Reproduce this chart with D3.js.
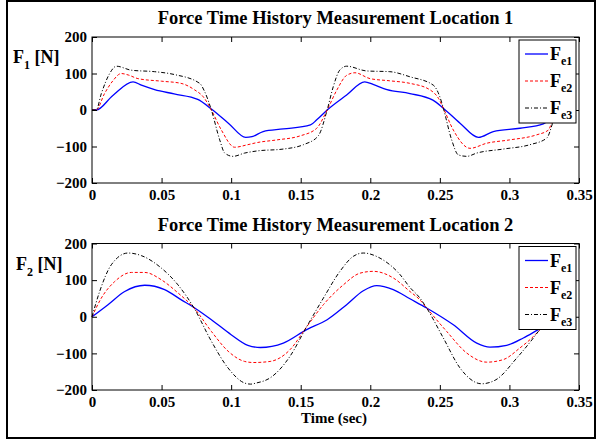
<!DOCTYPE html>
<html>
<head>
<meta charset="utf-8">
<script src="https://cdn.jsdelivr.net/npm/d3@7"></script>
<style>
  body { margin: 0; background: #fff; }
  svg { display: block; font-family: "Liberation Serif", "Times New Roman", serif; font-weight: bold; }
</style>
</head>
<body>
<svg class="chart" width="598" height="441"></svg>
<script>
// ---- data: [time (s), force (N)] ----
var loc1Fe1 = [[0,0],[0.003,0],[0.015,40],[0.0295,77],[0.0355,68],[0.045,56],[0.059,44],[0.076,29],[0.086,2],[0.098,-36],[0.1105,-75],[0.115,-73],[0.123,-59],[0.1375,-52],[0.157,-41],[0.1615,-27],[0.169,0],[0.183,41],[0.196,77],[0.202,70],[0.212,56],[0.2285,45],[0.245,27],[0.2525,5],[0.2645,-36],[0.2777,-75],[0.2884,-59],[0.3076,-50],[0.3244,-38],[0.330,-23],[0.335,0]];
var loc1Fe2 = [[0,0],[0.003,0],[0.009,45],[0.015,80],[0.021,100],[0.026,96],[0.033,86],[0.0498,79],[0.064,73],[0.0738,55],[0.080,36],[0.0858,0],[0.093,-55],[0.1025,-102],[0.112,-95],[0.119,-89],[0.1327,-82],[0.1495,-71],[0.1615,-50],[0.169,0],[0.176,55],[0.183,95],[0.189,102],[0.1998,86],[0.214,80],[0.2285,73],[0.243,55],[0.249,32],[0.2525,5],[0.2597,-55],[0.2717,-105],[0.2837,-91],[0.300,-82],[0.3196,-68],[0.328,-55],[0.331,-27],[0.335,10]];
var loc1Fe3 = [[0,0],[0.003,0],[0.0067,45],[0.0127,100],[0.0175,120],[0.0283,109],[0.045,105],[0.0594,97],[0.0774,73],[0.081,50],[0.0858,0],[0.0918,-82],[0.0954,-118],[0.1013,-127],[0.1097,-118],[0.119,-112],[0.1375,-107],[0.152,-95],[0.1626,-71],[0.169,0],[0.1734,64],[0.178,109],[0.183,120],[0.1974,107],[0.214,105],[0.2285,91],[0.2453,68],[0.250,36],[0.2525,5],[0.2585,-82],[0.2633,-123],[0.2693,-127],[0.2765,-118],[0.2956,-107],[0.3148,-95],[0.3268,-77],[0.331,-36],[0.335,20]];

var loc2Fe1 = [[0,0],[0.0115,33],[0.0235,69],[0.0379,86],[0.0522,74],[0.0642,46],[0.0738,24],[0.0858,-8],[0.100,-49],[0.112,-78],[0.121,-84],[0.1375,-72],[0.1543,-35],[0.169,-8],[0.183,33],[0.195,71],[0.2046,85],[0.2165,74],[0.2285,49],[0.2405,24],[0.2597,-22],[0.2765,-72],[0.286,-83],[0.298,-78],[0.310,-58],[0.3208,-35],[0.333,-10]];
var loc2Fe2 = [[0,0],[0.0067,51],[0.0163,96],[0.0283,121],[0.0379,121],[0.0498,101],[0.0618,65],[0.0733,24],[0.0858,-40],[0.0978,-94],[0.1097,-122],[0.116,-125],[0.128,-122],[0.1423,-90],[0.154,-29],[0.1663,33],[0.1806,87],[0.1926,119],[0.2022,124],[0.2165,106],[0.2285,69],[0.2357,46],[0.2405,24],[0.2549,-40],[0.2693,-99],[0.2837,-124],[0.2956,-117],[0.3076,-85],[0.3172,-54],[0.3208,-40],[0.333,0]];
var loc2Fe3 = [[0,0],[0.0055,69],[0.0139,142],[0.0259,174],[0.0354,167],[0.0498,133],[0.0618,87],[0.0733,24],[0.0858,-67],[0.0978,-140],[0.1097,-181],[0.114,-184],[0.118,-181],[0.128,-167],[0.1423,-108],[0.154,-29],[0.1663,51],[0.1782,124],[0.1878,165],[0.195,174],[0.207,160],[0.2214,115],[0.2285,80],[0.2357,51],[0.2405,24],[0.2525,-58],[0.2645,-140],[0.280,-183],[0.2903,-172],[0.3052,-113],[0.3172,-58],[0.3208,-40],[0.333,20]];

var xTicks = [0, 0.05, 0.1, 0.15, 0.2, 0.25, 0.3, 0.35];
var yTicks = [-200, -100, 0, 100, 200];
var legendNames = ["e1", "e2", "e3"];
var titles = ["Force Time History Measurement Location 1", "Force Time History Measurement Location 2"];
var yLabelSubs = ["1", "2"];

var svg = d3.select("svg.chart");

// outer frame
svg.append("rect")
    .attr("x", 7).attr("y", 1).attr("width", 588).attr("height", 437)
    .attr("fill", "none").attr("stroke", "#000").attr("stroke-width", 2);

var styles = [
  {color: "#0000ff", dash: null, width: 1.3},
  {color: "#ff0000", dash: "3,2", width: 1},
  {color: "#000000", dash: "4,2,1,2", width: 1}
];

var left = 92, right = 579;
var x = d3.scaleLinear().domain([0, 0.35]).range([left, right]);

function panel(series, top, bottom, idx, legTop) {
  var y = d3.scaleLinear().domain([-200, 200]).range([bottom, top]);
  var g = svg.append("g");

  var line = d3.line()
      .x(function(d) { return x(d[0]); })
      .y(function(d) { return y(d[1]); })
      .curve(d3.curveMonotoneX);

  series.forEach(function(s, i) {
    g.append("path")
        .datum(s)
        .attr("fill", "none")
        .attr("stroke", styles[i].color)
        .attr("stroke-width", styles[i].width)
        .attr("stroke-dasharray", styles[i].dash)
        .attr("d", line);
  });

  // axes, ticks pointing inwards like the original
  var ax = g.append("g").attr("transform", "translate(0," + bottom + ")")
      .call(d3.axisBottom(x).tickValues(xTicks).tickSize(-5).tickPadding(6)
        .tickFormat(function(d) { return d3.format("")(+d.toFixed(2)); }));
  var ay = g.append("g").attr("transform", "translate(" + left + ",0)")
      .call(d3.axisLeft(y).tickValues(yTicks).tickSize(-5).tickPadding(5));
  var axT = g.append("g").attr("transform", "translate(0," + top + ")")
      .call(d3.axisTop(x).tickValues(xTicks).tickSize(-5).tickFormat(""));
  var ayR = g.append("g").attr("transform", "translate(" + right + ",0)")
      .call(d3.axisRight(y).tickValues(yTicks).tickSize(-5).tickFormat(""));
  [ax, ay, axT, ayR].forEach(function(a) {
    a.select(".domain").remove();
    a.selectAll("line").attr("stroke", "#000");
    a.selectAll("text").attr("fill", "#000")
      .style("font-family", "Liberation Serif, Times New Roman, serif")
      .style("font-weight", "bold").style("font-size", "15px");
  });

  g.append("rect")
      .attr("x", left).attr("y", top).attr("width", right - left).attr("height", bottom - top)
      .attr("fill", "none").attr("stroke", "#000").attr("stroke-width", 1);

  // title
  g.append("text")
      .attr("x", (left + right) / 2).attr("y", top - 13)
      .attr("text-anchor", "middle").style("font-size", "18.5px")
      .text(titles[idx]);

  // y label
  var yl = g.append("text").attr("x", 13 + idx * 3).attr("y", top + 26).style("font-size", "18px");
  yl.append("tspan").text("F");
  yl.append("tspan").attr("dy", 6).style("font-size", "12px").text(yLabelSubs[idx]);
  yl.append("tspan").attr("dy", -6).text(" [N]");

  // legend
  var lg = g.append("g");
  lg.append("rect")
      .attr("x", 519).attr("y", legTop).attr("width", 57).attr("height", 83)
      .attr("fill", "#fff").attr("stroke", "#000").attr("stroke-width", 1);
  legendNames.forEach(function(n, i) {
    var ry = legTop + 14 + i * 27;
    lg.append("line")
        .attr("x1", 525).attr("x2", 548).attr("y1", ry).attr("y2", ry)
        .attr("stroke", styles[i].color)
        .attr("stroke-width", styles[i].width)
        .attr("stroke-dasharray", styles[i].dash);
    var t = lg.append("text").attr("x", 550).attr("y", ry + 6).style("font-size", "18px");
    t.append("tspan").text("F");
    t.append("tspan").attr("dy", 5).style("font-size", "12px").text(n);
  });
}

panel([loc1Fe1, loc1Fe2, loc1Fe3], 37, 183, 0, 40);
panel([loc2Fe1, loc2Fe2, loc2Fe3], 243.5, 390, 1, 246.5);

svg.append("text")
    .attr("x", 334).attr("y", 423)
    .attr("text-anchor", "middle").style("font-size", "15px")
    .text("Time (sec)");
</script>
</body>
</html>
